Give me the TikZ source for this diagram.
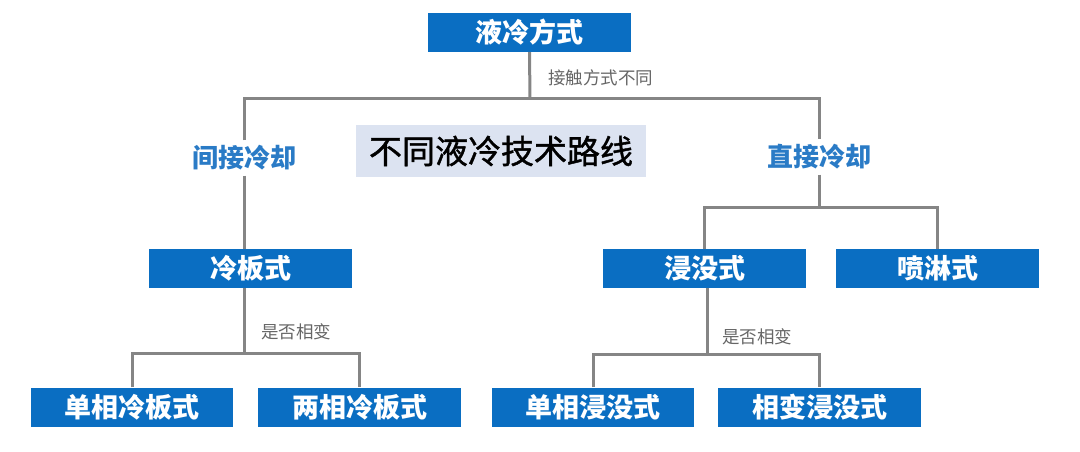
\documentclass[tikz,border=0pt]{standalone}
\usepackage{fontspec}
\setmainfont{Noto Sans CJK SC}
\newfontfamily\titlefont[FakeBold=1.2]{Noto Sans CJK SC}
\definecolor{boxblue}{HTML}{0A6EC2}
\definecolor{lblblue}{HTML}{2A7BC6}
\definecolor{conngray}{HTML}{858585}
\definecolor{titlebg}{HTML}{DCE3F1}
\begin{document}
\begin{tikzpicture}[x=1pt,y=-1pt,
  bluebox/.style={fill=boxblue, text=white, font=\fontsize{27}{29}\selectfont\bfseries,
    minimum width=203pt, minimum height=39pt, inner sep=0pt},
  bluelabel/.style={fill=white, text=lblblue, font=\fontsize{26}{28}\selectfont\bfseries,
    inner xsep=2pt, inner ysep=5pt},
  graylabel/.style={text=black!60, font=\fontsize{17.5}{19}\selectfont, inner sep=0pt},
  conn/.style={draw=conngray, line width=3pt}]
\useasboundingbox (0,0) rectangle (1080,452);

% nodes
\node[bluebox] (top) at (529.5,32.5) {液冷方式};
\node[bluebox] (cold) at (250.5,268.5) {冷板式};
\node[bluebox] (imm) at (704.5,268.5) {浸没式};
\node[bluebox] (spr) at (937.5,268.5) {喷淋式};
\node[bluebox, minimum width=202pt] (sc) at (132,407) {单相冷板式};
\node[bluebox] (tc) at (359.5,407) {两相冷板式};
\node[bluebox, minimum width=202pt] (si) at (593,407) {单相浸没式};
\node[bluebox] (pi) at (819.5,407) {相变浸没式};

\node[bluelabel] (ind) at (244,158) {间接冷却};
\node[bluelabel] (dir) at (819,157) {直接冷却};

\node[fill=titlebg, minimum width=290pt, minimum height=52pt, inner sep=0pt,
  font=\titlefont\fontsize{33}{36}\selectfont] (title) at (501,151) {不同液冷技术路线};

\node[graylabel, anchor=west] (lab1) at (548,78) {接触方式不同};
\node[graylabel, anchor=west] (lab2) at (261,332) {是否相变};
\node[graylabel, anchor=west] (lab3) at (722,337) {是否相变};

% junction coordinates
\coordinate (h1) at (530,99);
\coordinate (h2) at (819,207);
\coordinate (h3) at (244,353);
\coordinate (h4) at (707,354);

% connectors
\draw[conn] (top.south) -- (h1);
\draw[conn] (ind.north) |- (h1) -| (dir.north);
\draw[conn] (ind.south) -- (ind.south |- cold.north);
\draw[conn] (h3 |- cold.south) -- (h3);
\draw[conn] (sc.north) |- (h3) -| (tc.north);
\draw[conn] (dir.south) -- (h2);
\draw[conn] (imm.north) |- (h2) -| (spr.north);
\draw[conn] (h4 |- imm.south) -- (h4);
\draw[conn] (si.north) |- (h4) -| (pi.north);
\end{tikzpicture}
\end{document}
